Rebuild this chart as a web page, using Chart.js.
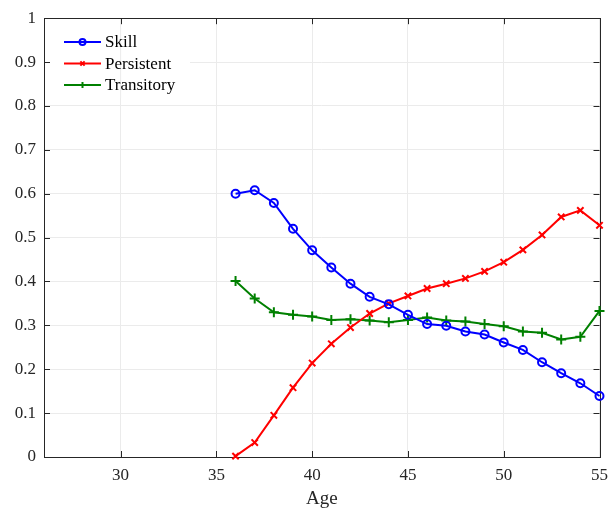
<!DOCTYPE html>
<html>
<head>
<meta charset="utf-8">
<script src="https://cdn.jsdelivr.net/npm/chart.js@4/dist/chart.umd.min.js"></script>
<style>
  body { margin: 0; background: #fff; }
  canvas { display: block; }
</style>
</head>
<body>
<canvas id="chart1" width="616" height="515"></canvas>
<script>
const ages = [36, 37, 38, 39, 40, 41, 42, 43, 44, 45, 46, 47, 48, 49, 50, 51, 52, 53, 54, 55];
const skill = [0.600, 0.608, 0.579, 0.520, 0.471, 0.432, 0.395, 0.365, 0.348, 0.324, 0.303, 0.299, 0.286, 0.279, 0.261, 0.244, 0.216, 0.191, 0.168, 0.139];
const persistent = [0.002, 0.033, 0.095, 0.158, 0.214, 0.258, 0.295, 0.327, 0.350, 0.367, 0.384, 0.395, 0.407, 0.423, 0.444, 0.472, 0.506, 0.547, 0.562, 0.528];
const transitory = [0.401, 0.361, 0.330, 0.324, 0.320, 0.312, 0.314, 0.311, 0.307, 0.312, 0.318, 0.311, 0.309, 0.303, 0.298, 0.286, 0.283, 0.268, 0.274, 0.333];
const xTicks = [30, 35, 40, 45, 50, 55];
const yTicks = [0, 0.1, 0.2, 0.3, 0.4, 0.5, 0.6, 0.7, 0.8, 0.9, 1];
const yTickLabels = ['0', '0.1', '0.2', '0.3', '0.4', '0.5', '0.6', '0.7', '0.8', '0.9', '1'];

const serif = '"Liberation Serif", "Times New Roman", serif';
const axisColor = '#262626';
const gridColor = '#ebebeb';

function pts(values) {
  return ages.map((a, i) => ({ x: a, y: values[i] }));
}

// box + inward ticks, like a matlab axes
const frame = {
  id: 'frame',
  beforeDatasetsDraw(chart) {
    const { ctx, chartArea: a, scales } = chart;
    ctx.save();
    ctx.strokeStyle = axisColor;
    ctx.lineWidth = 1;
    ctx.beginPath();
    xTicks.forEach(v => {
      const x = Math.round(scales.x.getPixelForValue(v)) + 0.5;
      ctx.moveTo(x, a.bottom); ctx.lineTo(x, a.bottom - 6);
      ctx.moveTo(x, a.top); ctx.lineTo(x, a.top + 6);
    });
    yTicks.forEach(v => {
      const y = Math.round(scales.y.getPixelForValue(v)) + 0.5;
      ctx.moveTo(a.left, y); ctx.lineTo(a.left + 6, y);
      ctx.moveTo(a.right, y); ctx.lineTo(a.right - 6, y);
    });
    ctx.stroke();
    ctx.strokeRect(Math.round(a.left) + 0.5, Math.round(a.top) + 0.5,
      Math.round(a.right - a.left), Math.round(a.bottom - a.top));
    ctx.restore();
  }
};

const boxLegend = {
  id: 'boxLegend',
  afterDraw(chart) {
    const ctx = chart.ctx;
    ctx.save();
    ctx.fillStyle = '#fff';
    ctx.fillRect(50, 28, 140, 70);
    // the vertical grid line still shows through the legend in the original
    const gx = chart.scales.x.getPixelForValue(xTicks[0]);
    ctx.strokeStyle = gridColor;
    ctx.lineWidth = 1;
    ctx.beginPath();
    ctx.moveTo(gx, 28); ctx.lineTo(gx, 98);
    ctx.stroke();
    ctx.font = '17px ' + serif;
    ctx.textBaseline = 'middle';
    chart.data.datasets.forEach((ds, i) => {
      const y = 42 + i * 21.5;
      ctx.strokeStyle = ds.borderColor;
      ctx.fillStyle = 'rgba(0,0,0,0)';
      ctx.lineWidth = 2;
      ctx.beginPath();
      ctx.moveTo(64, y); ctx.lineTo(101, y);
      ctx.stroke();
      Chart.helpers.drawPoint(ctx, { pointStyle: ds.pointStyle, radius: 3, borderWidth: 2 }, 82.5, y);
      ctx.fillStyle = '#000';
      ctx.fillText(ds.label, 105, y + 1);
    });
    ctx.restore();
  }
};

new Chart(document.getElementById('chart1'), {
  type: 'line',
  data: {
    datasets: [{
      label: 'Skill',
      data: pts(skill),
      borderColor: '#0000ff',
      pointStyle: 'circle',
      pointRadius: 4,
      pointBorderWidth: 2
    }, {
      label: 'Persistent',
      data: pts(persistent),
      borderColor: '#ff0000',
      pointStyle: 'crossRot',
      pointRadius: 4.5,
      pointBorderWidth: 2
    }, {
      label: 'Transitory',
      data: pts(transitory),
      borderColor: '#008000',
      pointStyle: 'cross',
      pointRadius: 5,
      pointBorderWidth: 2
    }]
  },
  options: {
    responsive: false,
    animation: false,
    layout: { padding: { top: 16, right: 13, left: 0, bottom: 0 } },
    datasets: {
      line: {
        borderWidth: 2,
        tension: 0,
        fill: false,
        clip: false,
        backgroundColor: 'rgba(0,0,0,0)',
        pointBackgroundColor: 'rgba(0,0,0,0)'
      }
    },
    plugins: {
      legend: { display: false },
      tooltip: { enabled: false }
    },
    scales: {
      x: {
        type: 'linear',
        min: 26,
        max: 55,
        afterBuildTicks: s => { s.ticks = xTicks.map(v => ({ value: v })); },
        afterFit: s => { s.height = 58; },
        grid: { color: gridColor, drawTicks: false },
        border: { display: false },
        ticks: { color: '#262626', padding: 8, maxRotation: 0, font: { family: serif, size: 17 } },
        title: { display: true, text: 'Age', color: '#262626', padding: { top: 0, bottom: 5 }, font: { family: serif, size: 19 } }
      },
      y: {
        min: 0,
        max: 1,
        afterBuildTicks: s => { s.ticks = yTicks.map(v => ({ value: v })); },
        afterFit: s => { s.width = 44; },
        grid: { color: gridColor, drawTicks: false },
        border: { display: false },
        ticks: { color: '#262626', padding: 8, font: { family: serif, size: 17 }, callback: (v, i) => yTickLabels[i] }
      }
    }
  },
  plugins: [frame, boxLegend]
});
</script>
</body>
</html>
